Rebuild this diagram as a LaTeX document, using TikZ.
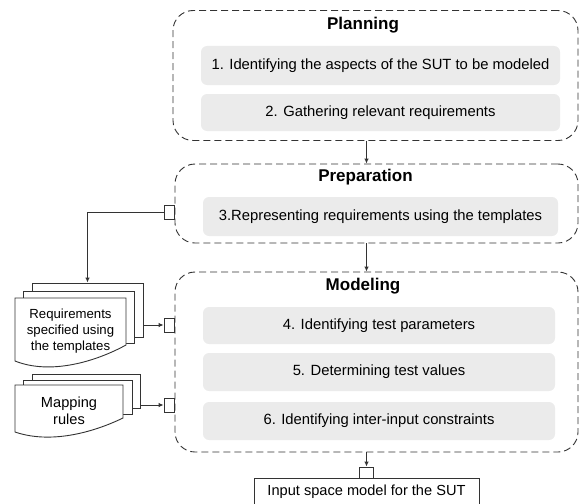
\documentclass[tikz,border=0pt]{standalone}
\usepackage{fontspec}
\setmainfont{Liberation Sans}
\usetikzlibrary{arrows.meta}
\definecolor{ln}{HTML}{333333}
\definecolor{stepfill}{HTML}{EBEBEB}
\begin{document}
\begin{tikzpicture}[x=1pt,y=-1pt,
 phase/.style={draw=ln, line width=0.9pt, dash pattern=on 7pt off 4pt, rounded corners=20pt, inner sep=0pt},
 stepbox/.style={fill=stepfill, rounded corners=6pt, inner sep=0pt, font=\fontsize{14.8}{17}\selectfont},
 title/.style={font=\fontsize{17}{20}\selectfont\bfseries, inner sep=0pt},
 port/.style={draw=ln, fill=white, line width=0.9pt, inner sep=0pt, minimum width=10pt, minimum height=14pt},
 page/.style={draw=ln, fill=white, line width=0.9pt, inner sep=0pt},
 doctext/.style={align=center, font=\fontsize{13.2}{16}\selectfont, inner sep=0pt},
 arr/.style={draw=ln, line width=0.9pt, -{Latex[length=5pt,width=4.5pt]}},
]
\useasboundingbox (0,0) rectangle (580,503);
\clip (0,0) rectangle (580,503);

% phases
\node[phase, minimum width=405pt, minimum height=130pt] (plan) at (375.5,75.5) {};
\node[phase, minimum width=403pt, minimum height=79pt] (prep) at (376.5,203.5) {};
\node[phase, minimum width=403pt, minimum height=180pt] (model) at (376.5,362) {};

\node[title] (tplan) at (363,25) {Planning};
\node[title] (tprep) at (365.5,177) {Preparation};
\node[title] (tmodel) at (363,286) {Modeling};

% steps
\node[stepbox, minimum width=359pt, minimum height=39pt] (s1) at (380.5,65.5) {1. Identifying the aspects of the SUT to be modeled};
\node[stepbox, minimum width=359pt, minimum height=37pt] (s2) at (380.5,112.5) {2. Gathering relevant requirements};
\node[stepbox, minimum width=355pt, minimum height=39pt] (s3) at (380.5,216.5) {3.Representing requirements using the templates};
\node[stepbox, minimum width=352pt, minimum height=37pt] (s4) at (379,325.5) {4. Identifying test parameters};
\node[stepbox, minimum width=352pt, minimum height=38pt] (s5) at (379,372) {5. Determining test values};
\node[stepbox, minimum width=352pt, minimum height=38pt] (s6) at (379,421) {6. Identifying inter-input constraints};

% ports
\node[port] (pp) at (169,212) {};
\node[port] (mp1) at (169,325) {};
\node[port] (mp2) at (169,405) {};
\node[port, minimum width=14pt, minimum height=11pt] (op) at (366.5,472.5) {};

% output
\node[draw=ln, line width=0.9pt, minimum width=225pt, minimum height=28pt, inner sep=0pt, font=\fontsize{14.6}{17}\selectfont] (out) at (366.5,492) {Input space model for the SUT};

% requirements document
\node[page, minimum width=111pt, minimum height=54pt] (reqB) at (87.5,310) {};
\node[page, minimum width=111pt, minimum height=52pt] (reqM) at (78.5,317) {};
\draw[page] (15,298) -- (126,298) -- (126,345) .. controls (95,362) and (50,375) .. (15,361) -- cycle;
\node[doctext] (req) at (70.5,331) {Requirements\\specified using\\the templates};

% mapping rules document
\node[page, minimum width=108pt, minimum height=34pt] (mapB) at (86,391) {};
\node[page, minimum width=109pt, minimum height=34pt] (mapM) at (77.5,397) {};
\draw[page] (15,385) -- (123,385) -- (123,418) .. controls (92,433) and (50,444) .. (15,432) -- cycle;
\node[doctext, font=\fontsize{14.6}{17}\selectfont] (map) at (69,410.5) {Mapping\\rules};

% connectors
\draw[arr] ([xshift=-9pt]plan.south) -- ([xshift=-9pt]plan.south |- prep.north);
\draw[arr] ([xshift=-10pt]prep.south) -- ([xshift=-10pt]prep.south |- model.north);
\draw[arr] (model.south -| op.north) -- (op.north);
\draw[arr] (pp.west) -| (reqB.north);
\draw[arr] (reqB.east |- mp1.west) -- (mp1.west);
\draw[arr] (mapB.east |- mp2.west) -- (mp2.west);
\end{tikzpicture}
\end{document}
